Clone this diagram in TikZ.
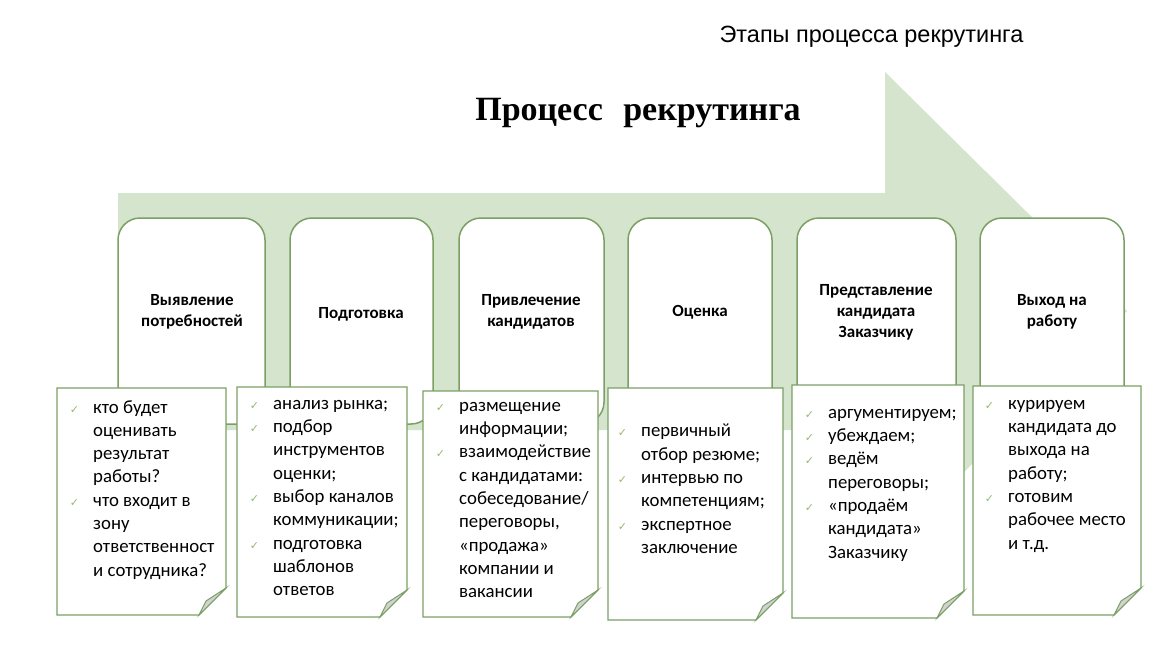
\documentclass[tikz,border=0pt]{standalone}
\usepackage{fontspec}
\setmainfont{Carlito}
\newfontfamily\serifb{Liberation Serif}
\newfontfamily\arialf{Liberation Sans}
\newfontfamily\djv{DejaVu Sans}
\definecolor{band}{RGB}{213,228,205}
\definecolor{gline}{RGB}{122,160,100}
\definecolor{ckc}{RGB}{150,185,110}
\newcommand{\ck}{\llap{{\djv\fontsize{11}{11}\selectfont\color{ckc}✓}\hspace{14pt}}}
\tikzset{
 stage/.style={draw=gline,line width=1.5pt,fill=white,rounded corners=22pt},
 sheet/.style={draw=gline,line width=1.3pt,fill=white},
 fold/.style={draw=gline,line width=1pt,fill=gray!35},
 lbl/.style={font=\bfseries\fontsize{17}{21}\selectfont,align=center},
 items/.style={anchor=north west,inner sep=0pt,align=left,font=\fontsize{18.8}{23.3}\selectfont}
}
\newcommand{\sheetbox}[5]{%
 \path[sheet] (#1,#2) -- (#3,#2) -- (#3,#4-27) -- (#3-27,#4) -- (#1,#4) -- cycle;
 \path[fold] (#3,#4-27) -- (#3-27,#4) -- (#3-20,#4-14) -- cycle;
 \node[name=#5] at (#1,#2) {};}
\begin{document}
\begin{tikzpicture}[x=1pt,y=-1pt]
\useasboundingbox (0,0) rectangle (1173,653);
\fill[white] (0,0) rectangle (1173,653);
\node[anchor=west,font=\arialf\fontsize{23.5}{26}\selectfont] (cap) at (716,37) {Этапы процесса рекрутинга};
% arrow
\fill[band] (118,193) -- (885,193) -- (885,72) -- (1127,311) -- (885,550) -- (885,430) -- (118,430) -- cycle;
\node[font=\serifb\bfseries\fontsize{34}{40}\selectfont] (title) at (638,113) {Процесс\hspace{0.6em}рекрутинга};
% top boxes
\foreach \a/\b/\n in {118/265/s1,290/433/s2,459/604/s3,628/772/s4,797/956/s5,980/1124/s6}{
 \path[stage] (\a,218) rectangle (\b,424);
}
\node[lbl] (l1) at (192,312) {Выявление\\потребностей};
\node[lbl] (l2) at (361,314) {Подготовка};
\node[lbl] (l3) at (531,312) {Привлечение\\кандидатов};
\node[lbl] (l4) at (700,312) {Оценка};
\node[lbl] (l5) at (876,312) {Представление\\кандидата\\Заказчику};
\node[lbl] (l6) at (1052,312) {Выход на\\работу};
% sheets
\sheetbox{57}{388}{226}{615}{b1}
\sheetbox{237}{387}{407}{617}{b2}
\sheetbox{423}{391}{598}{617}{b3}
\sheetbox{608}{388}{783}{620}{b4}
\sheetbox{792}{385}{964}{618}{b5}
\sheetbox{973}{386}{1141}{615}{b6}
\node[items] (t1) at (93,400) {\ck кто будет\\оценивать\\результат\\работы?\\\ck что входит в\\зону\\ответственност\\и сотрудника?};
\node[items] (t2) at (273,400) {\ck анализ рынка;\\\ck подбор\\инструментов\\оценки;\\\ck выбор каналов\\коммуникации;\\\ck подготовка\\шаблонов\\ответов};
\node[items] (t3) at (459,402) {\ck размещение\\информации;\\\ck взаимодействие\\с кандидатами:\\собеседование/\\переговоры,\\«продажа»\\компании и\\вакансии};
\node[items] (t4) at (641,424) {\ck первичный\\отбор резюме;\\\ck интервью по\\компетенциям;\\\ck экспертное\\заключение};
\node[items] (t5) at (828,409) {\ck аргументируем;\\\ck убеждаем;\\\ck ведём\\переговоры;\\\ck «продаём\\кандидата»\\Заказчику};
\node[items] (t6) at (1008,400) {\ck курируем\\кандидата до\\выхода на\\работу;\\\ck готовим\\рабочее место\\и т.д.};
\end{tikzpicture}
\end{document}
